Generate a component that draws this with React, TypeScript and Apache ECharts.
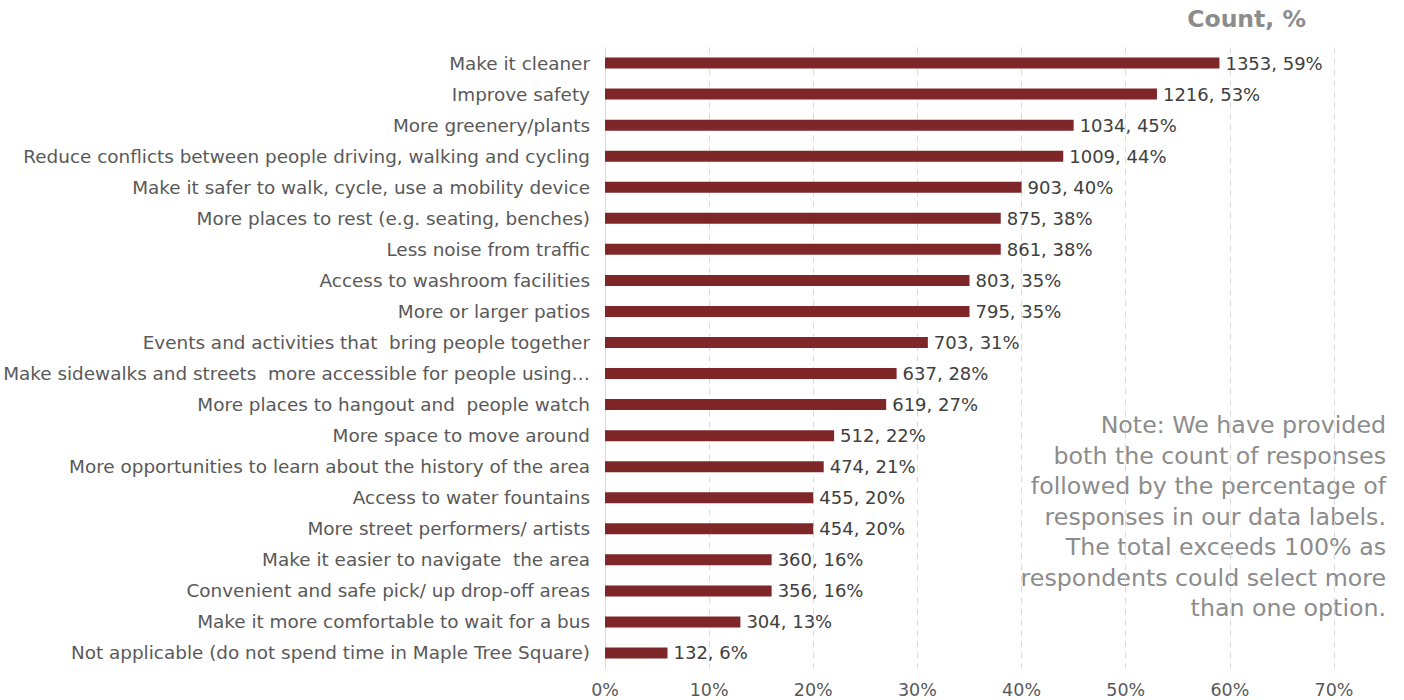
import React, { useEffect, useRef } from "react";
import * as echarts from "echarts";

const categories = [
  "Make it cleaner",
  "Improve safety",
  "More greenery/plants",
  "Reduce conflicts between people driving, walking and cycling",
  "Make it safer to walk, cycle, use a mobility device",
  "More places to rest (e.g. seating, benches)",
  "Less noise from traffic",
  "Access to washroom facilities",
  "More or larger patios",
  "Events and activities that  bring people together",
  "Make sidewalks and streets  more accessible for people using…",
  "More places to hangout and  people watch",
  "More space to move around",
  "More opportunities to learn about the history of the area",
  "Access to water fountains",
  "More street performers/ artists",
  "Make it easier to navigate  the area",
  "Convenient and safe pick/ up drop-off areas",
  "Make it more comfortable to wait for a bus",
  "Not applicable (do not spend time in Maple Tree Square)",
];
const counts = [1353, 1216, 1034, 1009, 903, 875, 861, 803, 795, 703, 637, 619, 512, 474, 455, 454, 360, 356, 304, 132];
const percents = [59, 53, 45, 44, 40, 38, 38, 35, 35, 31, 28, 27, 22, 21, 20, 20, 16, 16, 13, 6];
const xTicks = [0, 10, 20, 30, 40, 50, 60, 70];
const titleText = "Count, %";
const noteLines = [
  "Note: We have provided",
  "both the count of responses",
  "followed by the percentage of",
  "responses in our data labels.",
  "The total exceeds 100% as",
  "respondents could select more",
  "than one option.",
];

const FONT = "'DejaVu Sans', sans-serif";

export default function App() {
  const ref = useRef<HTMLDivElement>(null);
  useEffect(() => {
    if (!ref.current) return;
    const chart = echarts.init(ref.current, null, { renderer: "svg" });
    chart.setOption({
      animation: false,
      textStyle: { fontFamily: FONT },
      grid: {
        left: 605,
        right: 70,
        top: 47.5,
        bottom: 31.5,
        containLabel: false,
        outerBoundsMode: "none",
      },
      xAxis: {
        type: "value",
        min: xTicks[0],
        max: xTicks[xTicks.length - 1],
        interval: 10,
        axisLine: { show: false },
        axisTick: { show: false },
        splitLine: { show: true, lineStyle: { color: "#d9d9d9", type: [6, 5], width: 1 } },
        axisLabel: {
          formatter: (v: number) => v + "%",
          color: "#595959",
          fontSize: 17.5,
          fontFamily: FONT,
          margin: 12,
        },
      },
      yAxis: {
        type: "category",
        data: categories,
        inverse: true,
        axisLine: { show: true, lineStyle: { color: "#d9d9d9" } },
        axisTick: { show: false },
        axisLabel: { color: "#595959", fontSize: 18.4, fontFamily: FONT, margin: 15 },
      },
      series: [
        {
          type: "bar",
          data: percents,
          barWidth: 11,
          itemStyle: { color: "#7f2629" },
          label: {
            show: true,
            position: "right",
            distance: 6,
            color: "#404040",
            fontSize: 18,
            fontFamily: FONT,
            formatter: (p: any) => counts[p.dataIndex] + ", " + percents[p.dataIndex] + "%",
          },
        },
      ],
      graphic: [
        {
          type: "text",
          x: 1306,
          y: 7,
          style: { text: titleText, fill: "#8c8c8c", fontSize: 23.5, fontWeight: "bold", fontFamily: FONT, align: "right" },
        },
        {
          type: "text",
          x: 1386,
          y: 410,
          style: {
            text: noteLines.join("\n"),
            fill: "#8c8c8c",
            fontSize: 23.7,
            lineHeight: 30.5,
            align: "right",
            fontFamily: FONT,
          },
        },
      ],
    });
    return () => chart.dispose();
  }, []);
  return <div ref={ref} style={{ width: 1404, height: 700, position: "absolute", left: 0, top: 0 }} />;
}
